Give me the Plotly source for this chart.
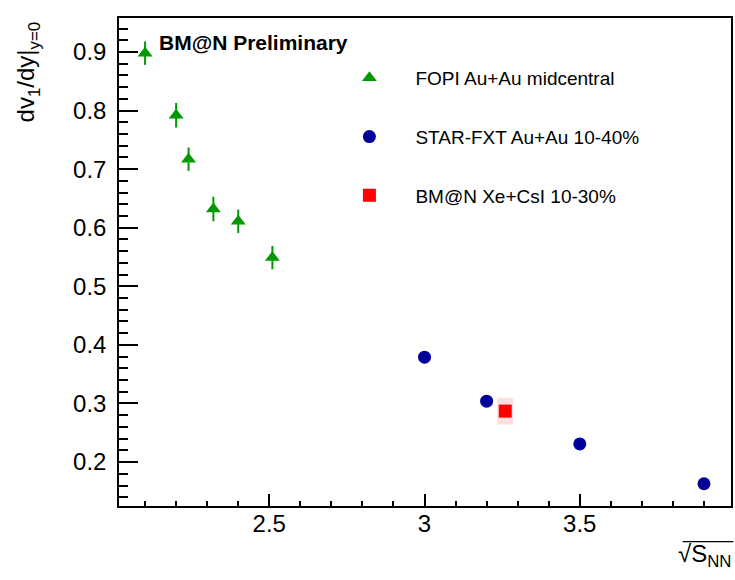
import plotly.graph_objects as go

# ---- data ----
fopi_x = [2.10, 2.20, 2.24, 2.32, 2.40, 2.51]
fopi_y = [0.898, 0.792, 0.717, 0.632, 0.611, 0.549]
fopi_err = [0.020, 0.021, 0.020, 0.021, 0.020, 0.020]

star_x = [3.0, 3.2, 3.5, 3.9]
star_y = [0.379, 0.304, 0.231, 0.163]

bmn_x = [3.26]
bmn_y = [0.287]
bmn_sys = [0.023]

x_ticks = [2.5, 3.0, 3.5]
x_ticklabels = ["2.5", "3", "3.5"]
y_ticks = [0.2, 0.3, 0.4, 0.5, 0.6, 0.7, 0.8, 0.9]
y_ticklabels = ["0.2", "0.3", "0.4", "0.5", "0.6", "0.7", "0.8", "0.9"]

FONT = "Liberation Sans, Arial, Helvetica, sans-serif"

fig = go.Figure()

fig.add_trace(go.Scatter(
    x=fopi_x, y=fopi_y, mode="markers", name="FOPI Au+Au midcentral",
    legendgroup="a",
    marker=dict(symbol="triangle-up", size=13, color="#009900"),
    error_y=dict(type="data", array=fopi_err, color="#009900", thickness=2, width=0),
))
fig.add_trace(go.Scatter(
    x=star_x, y=star_y, mode="markers", name="STAR-FXT Au+Au 10-40%",
    legendgroup="b",
    marker=dict(symbol="circle", size=13, color="#000099"),
))
fig.add_trace(go.Scatter(
    x=bmn_x, y=bmn_y, mode="markers", name="BM@N Xe+CsI 10-30%",
    legendgroup="c",
    marker=dict(symbol="square", size=13, color="#ff0000"),
    error_y=dict(type="data", array=bmn_sys, color="rgba(255,0,0,0.13)", thickness=16, width=0),
))

axis_common = dict(
    showgrid=False, zeroline=False, showline=True, linecolor="black", linewidth=1.5,
    mirror=True, ticks="inside", tickcolor="black", tickwidth=1.5,
    tickfont=dict(family=FONT, size=24, color="black"),
)

fig.update_xaxes(
    range=[2.016, 3.987], tickvals=x_ticks, ticktext=x_ticklabels, ticklen=12,
    minor=dict(ticks="inside", dtick=0.1, tick0=2.0, ticklen=5, tickcolor="black", tickwidth=1.5),
    ticklabelstandoff=-5,
    **axis_common,
)
fig.update_yaxes(
    range=[0.125, 0.958], tickvals=y_ticks, ticktext=y_ticklabels, ticklen=19,
    minor=dict(ticks="inside", dtick=0.02, tick0=0.0, ticklen=9, tickcolor="black", tickwidth=1.5),
    ticklabelstandoff=6,
    **axis_common,
)

fig.update_layout(
    width=735, height=580,
    margin=dict(l=119, r=2, t=18, b=74),
    paper_bgcolor="white", plot_bgcolor="white",
    font=dict(family=FONT, color="black"),
    legend=dict(
        x=0.334, y=0.916, xanchor="left", yanchor="top",
        font=dict(family=FONT, size=19, color="black"),
        bgcolor="rgba(0,0,0,0)", itemwidth=82, tracegroupgap=31,
    ),
    annotations=[
        dict(text="<b>BM@N Preliminary</b>", xref="paper", yref="paper",
             x=0.0615, y=0.978, xanchor="left", yanchor="top", showarrow=False,
             font=dict(family=FONT, size=21, color="black")),
        dict(text="dv<sub>1</sub>/dy|<sub>y=0</sub>", xref="paper", yref="paper",
             x=-0.148, y=0.996, xanchor="center", yanchor="top", textangle=-90,
             showarrow=False, font=dict(family=FONT, size=24, color="black")),
        dict(text="√S<sub>NN</sub>", xref="paper", yref="paper",
             x=1.004, y=-0.065, xanchor="right", yanchor="top", showarrow=False,
             font=dict(family=FONT, size=24, color="black")),
    ],
    shapes=[
        dict(type="line", xref="paper", yref="paper", x0=0.921, x1=1.004,
             y0=-0.073, y1=-0.073, line=dict(color="black", width=1.2)),
    ],
)

fig.write_html(
    "out.html",
    config={"displayModeBar": False},
    post_script="document.body.style.margin='0';document.body.style.overflow='hidden';",
)
